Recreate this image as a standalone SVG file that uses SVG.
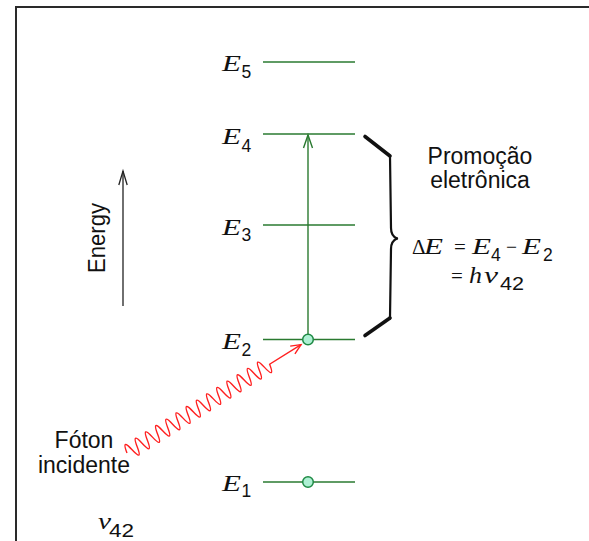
<svg xmlns="http://www.w3.org/2000/svg" width="589" height="541" viewBox="0 0 589 541">
<style>
.lvl{stroke:#2a7a30;stroke-width:1.4;fill:none}
.E{font-family:"Liberation Serif",serif;font-style:italic;font-size:24px;fill:#111}
.sub{font-family:"Liberation Sans",sans-serif;font-size:17.5px;fill:#111}
.lbl{font-family:"Liberation Sans",sans-serif;font-size:23px;fill:#111}
.sym{font-family:"Liberation Serif",serif;font-size:21px;fill:#111}
.dot{fill:#aef0d4;stroke:#1f8a45;stroke-width:1.5}
</style>
<rect width="589" height="541" fill="#fff"/>
<path d="M16,541 V7 H589" fill="none" stroke="#2a2a2a" stroke-width="2"/>

<g id="level-E5">
<line class="lvl" x1="263" y1="62" x2="355" y2="62"/>
<text class="E" x="222" y="71" textLength="19" lengthAdjust="spacingAndGlyphs">E</text>
<text class="sub" x="241.5" y="78">5</text>
</g>
<g id="level-E4">
<line class="lvl" x1="263" y1="134" x2="355" y2="134"/>
<text class="E" x="222" y="144" textLength="19" lengthAdjust="spacingAndGlyphs">E</text>
<text class="sub" x="241.5" y="151.5">4</text>
</g>
<g id="level-E3">
<line class="lvl" x1="263" y1="225" x2="355" y2="225"/>
<text class="E" x="222" y="235" textLength="19" lengthAdjust="spacingAndGlyphs">E</text>
<text class="sub" x="241.5" y="241">3</text>
</g>
<g id="level-E2">
<line class="lvl" x1="263" y1="339.5" x2="355" y2="339.5"/>
<text class="E" x="222" y="349" textLength="19" lengthAdjust="spacingAndGlyphs">E</text>
<text class="sub" x="241.5" y="355.5">2</text>
</g>
<g id="level-E1">
<line class="lvl" x1="263" y1="482" x2="355" y2="482"/>
<text class="E" x="222" y="491" textLength="19" lengthAdjust="spacingAndGlyphs">E</text>
<text class="sub" x="241.5" y="497">1</text>
</g>

<g id="connectors">
<g id="transition">
<line class="lvl" x1="308" y1="334" x2="308" y2="135"/>
<path class="lvl" d="M303.5,148 L308,135 L312.5,148"/>
</g>
<g id="photon" transform="translate(127,453) rotate(-31.9)" fill="none" stroke="#ff2020" stroke-width="1.4">
<path d="M0,0 Q3,-16 6,0 T12,0 T18,0 T24,0 T30,0 T36,0 T42,0 T48,0 T54,0 T60,0 T66,0 T72,0 T78,0 T84,0 T90,0 T96,0 T102,0 T108,0 T114,0 T120,0 T126,0 T132,0 T138,0 T144,0 T150,0 T156,0 T162,0 T168,0 L205,0"/>
<path d="M195,-4.5 L205,0 L195,4.5"/>
</g>
<g id="energy-axis" stroke="#222" stroke-width="1.3" fill="none">
<line x1="123" y1="306" x2="123" y2="171"/>
<path d="M118.8,185 L123,171 L127.2,185"/>
</g>
</g>

<g id="dots">
<circle class="dot" cx="308" cy="339.5" r="5.3"/>
<circle class="dot" cx="308" cy="482" r="5.3"/>
</g>

<g id="brace" fill="none" stroke="#111" stroke-linecap="round" stroke-linejoin="round">
<path d="M365,136.5 L390,156" stroke-width="3.6"/>
<path d="M390,156 L391,228 Q391,236 397,238.5" stroke-width="2.2"/>
<path d="M397,238.5 Q391,241 391,249 L390,318" stroke-width="2.2"/>
<path d="M390,318 L365,335.5" stroke-width="3.6"/>
</g>

<g id="label-promocao">
<text class="lbl" x="480" y="163.5" text-anchor="middle">Promoção</text>
<text class="lbl" x="480" y="187.5" text-anchor="middle">eletrônica</text>
</g>

<g id="equation">
<text class="sym" x="412" y="253.5" font-size="20">Δ</text>
<text class="E" x="424" y="253.5" textLength="19" lengthAdjust="spacingAndGlyphs">E</text>
<text class="sym" x="454" y="253.5">=</text>
<text class="E" x="472" y="253.5" textLength="19" lengthAdjust="spacingAndGlyphs">E</text>
<text class="sub" x="491" y="261">4</text>
<text class="sym" x="506" y="253.5" textLength="11" lengthAdjust="spacingAndGlyphs">−</text>
<text class="E" x="522" y="253.5" textLength="19" lengthAdjust="spacingAndGlyphs">E</text>
<text class="sub" x="543" y="261">2</text>
<text class="sym" x="451" y="283">=</text>
<text class="E" x="469" y="283" textLength="13" lengthAdjust="spacingAndGlyphs">h</text>
<text class="E" x="484" y="283" textLength="14" lengthAdjust="spacingAndGlyphs">ν</text>
<text class="sub" x="500" y="290" font-size="17.5" textLength="24" lengthAdjust="spacingAndGlyphs">42</text>
</g>

<g id="label-foton">
<text class="lbl" x="84" y="448" text-anchor="middle">Fóton</text>
<text class="lbl" x="84" y="473" text-anchor="middle">incidente</text>
</g>

<text class="lbl" transform="translate(105,273) rotate(-90)" font-size="24" textLength="70" lengthAdjust="spacingAndGlyphs">Energy</text>

<g id="nu-label">
<text class="E" x="98" y="528.5" textLength="13" lengthAdjust="spacingAndGlyphs">ν</text>
<text class="sub" x="109" y="537" font-size="19" textLength="25" lengthAdjust="spacingAndGlyphs">42</text>
</g>
</svg>
